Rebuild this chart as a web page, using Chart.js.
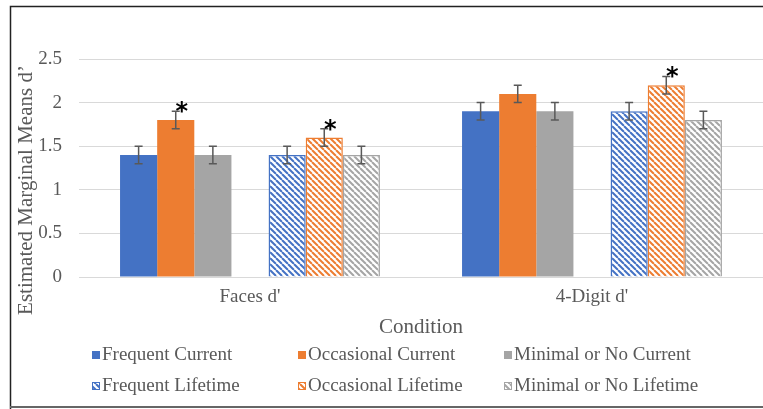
<!DOCTYPE html>
<html>
<head>
<meta charset="utf-8">
<title>Estimated Marginal Means d'</title>
<script src="https://cdn.jsdelivr.net/npm/chart.js@4.4.1/dist/chart.umd.min.js"></script>
<style>
  body { margin: 0; background: #ffffff; }
  #wrap { width: 763px; height: 409px; }
</style>
</head>
<body>
<div id="wrap"><canvas id="myChart" width="763" height="409"></canvas></div>
<script>

// categories on the x axis
var categories = ["Faces d'", "4-Digit d'"];

// series values (estimated marginal means), one array per group
var frequentCurrent   = [1.4, 1.9];
var occasionalCurrent = [1.8, 2.1];
var minimalCurrent    = [1.4, 1.9];
var frequentLifetime   = [1.4, 1.9];
var occasionalLifetime = [1.6, 2.2];
var minimalLifetime    = [1.4, 1.8];

// error bar half widths (same order as above)
var errFrequentCurrent   = [0.1, 0.1];
var errOccasionalCurrent = [0.1, 0.1];
var errMinimalCurrent    = [0.1, 0.1];
var errFrequentLifetime   = [0.1, 0.1];
var errOccasionalLifetime = [0.1, 0.1];
var errMinimalLifetime    = [0.1, 0.1];

// significance stars
var starOccasionalCurrent  = [true, false];
var starOccasionalLifetime = [true, true];

// y axis ticks
var yTicks = [0, 0.5, 1, 1.5, 2, 2.5];

var seriesLabels = ["Frequent Current", "Occasional Current", "Minimal or No Current",
                    "Frequent Lifetime", "Occasional Lifetime", "Minimal or No Lifetime"];

var blue = '#4472C4';
var orange = '#ED7D31';
var gray = '#A5A5A5';
var textGray = '#595959';
var serif = "'Liberation Serif', 'Times New Roman', serif";

// diagonal stripes ("\" direction) on white
function makeHatch(color) {
  var s = 6;
  var c = document.createElement('canvas');
  c.width = s; c.height = s;
  var g = c.getContext('2d');
  g.fillStyle = '#ffffff';
  g.fillRect(0, 0, s, s);
  g.strokeStyle = color;
  g.lineWidth = 2;
  for (var k = -s; k <= s; k += s) {
    g.beginPath();
    g.moveTo(k, 0);
    g.lineTo(k + s, s);
    g.stroke();
  }
  return document.getElementById('myChart').getContext('2d').createPattern(c, 'repeat');
}

var hatchBlue = makeHatch(blue);
var hatchOrange = makeHatch(orange);
var hatchGray = makeHatch(gray);

// build the datasets, with an empty spacer between the two groups
function solid(label, data, color, err, stars) {
  return { label: label, data: data, backgroundColor: color, borderColor: color, borderWidth: 0, err: err, stars: stars };
}
function hatched(label, data, color, pattern, err, stars) {
  return { label: label, data: data, backgroundColor: pattern, borderColor: color, borderWidth: 1.5, err: err, stars: stars };
}

var datasets = [
  solid(seriesLabels[0], frequentCurrent, blue, errFrequentCurrent),
  solid(seriesLabels[1], occasionalCurrent, orange, errOccasionalCurrent, starOccasionalCurrent),
  solid(seriesLabels[2], minimalCurrent, gray, errMinimalCurrent),
  { label: '', data: [null, null], spacer: true },
  hatched(seriesLabels[3], frequentLifetime, blue, hatchBlue, errFrequentLifetime),
  hatched(seriesLabels[4], occasionalLifetime, orange, hatchOrange, errOccasionalLifetime, starOccasionalLifetime),
  hatched(seriesLabels[5], minimalLifetime, gray, hatchGray, errMinimalLifetime)
];

// error bars + stars, drawn through the scales
var errorBarPlugin = {
  id: 'errorBars',
  afterDatasetsDraw: function (chart) {
    var ctx = chart.ctx;
    var yScale = chart.scales.y;
    ctx.save();
    chart.data.datasets.forEach(function (ds, i) {
      if (ds.spacer || !ds.err) return;
      var meta = chart.getDatasetMeta(i);
      meta.data.forEach(function (bar, j) {
        var v = ds.data[j];
        var e = ds.err[j];
        var top = yScale.getPixelForValue(v + e);
        var bot = yScale.getPixelForValue(v - e);
        ctx.strokeStyle = textGray;
        ctx.lineWidth = 1.5;
        ctx.beginPath();
        ctx.moveTo(bar.x, top); ctx.lineTo(bar.x, bot);
        ctx.moveTo(bar.x - 4, top); ctx.lineTo(bar.x + 4, top);
        ctx.moveTo(bar.x - 4, bot); ctx.lineTo(bar.x + 4, bot);
        ctx.stroke();
        if (ds.stars && ds.stars[j]) {
          ctx.fillStyle = '#000000';
          ctx.font = "bold 24px 'DejaVu Sans', sans-serif";
          ctx.textAlign = 'center';
          ctx.textBaseline = 'alphabetic';
          ctx.fillText('*', bar.x + 6, top + 8);
        }
      });
    });
    ctx.restore();
  } // END afterDatasetsDraw
};

// axis titles, legend in 3 columns, and the frame
var decorPlugin = {
  id: 'decor',
  afterDraw: function (chart) {
    var ctx = chart.ctx;
    var area = chart.chartArea;
    ctx.save();

    // y axis title
    ctx.fillStyle = textGray;
    ctx.font = '21px ' + serif;
    ctx.textAlign = 'center';
    ctx.textBaseline = 'middle';
    ctx.translate(26, 190);
    ctx.rotate(-Math.PI / 2);
    ctx.fillText('Estimated Marginal Means d\u2019', 0, 0);
    ctx.setTransform(1, 0, 0, 1, 0, 0);

    // x axis title
    ctx.fillText('Condition', (area.left + area.right) / 2, 327);

    // legend
    var colX = [92, 298, 504];
    var rowY = [355, 386];
    ctx.font = '19px ' + serif;
    ctx.textAlign = 'left';
    var li = 0;
    chart.data.datasets.forEach(function (ds) {
      if (ds.spacer) return;
      var x = colX[li % 3];
      var y = rowY[Math.floor(li / 3)];
      ctx.fillStyle = ds.backgroundColor;
      ctx.fillRect(x, y - 4, 8, 8);
      if (ds.borderWidth) {
        ctx.strokeStyle = ds.borderColor;
        ctx.lineWidth = 1;
        ctx.strokeRect(x + 0.5, y - 3.5, 7, 7);
      }
      ctx.fillStyle = textGray;
      ctx.fillText(ds.label, x + 10, y);
      li++;
    });

    // frame round the figure
    ctx.strokeStyle = '#222222';
    ctx.lineWidth = 1.5;
    ctx.beginPath();
    ctx.moveTo(10.5, 409); ctx.lineTo(10.5, 6.5); ctx.lineTo(763, 6.5);
    ctx.stroke();
    ctx.strokeStyle = '#666666';
    ctx.lineWidth = 2;
    ctx.beginPath();
    ctx.moveTo(10, 407); ctx.lineTo(763, 407);
    ctx.stroke();
    ctx.restore();
  } // END afterDraw
};

var canvas = document.getElementById('myChart');
var setup = {
  type: 'bar',
  data: { labels: categories, datasets: datasets },
  options: {
    responsive: false,
    animation: false,
    // bar widths: 7 slots per category (6 bars + empty spacer), no gaps between bars
    datasets: {
      bar: { categoryPercentage: 0.76, barPercentage: 1.0 }
    },
    layout: { padding: { top: 59, left: 0, right: 0, bottom: 0 } },
    scales: {
      x: {
        grid: { display: false, drawTicks: false },
        border: { display: false },
        ticks: { color: textGray, font: { family: serif, size: 19 }, padding: 9 },
        afterFit: function (scale) { scale.height = 132; }
      },
      y: {
        min: 0,
        max: 2.5,
        afterBuildTicks: function (scale) {
          scale.ticks = yTicks.map(function (v) { return { value: v }; });
        },
        grid: { color: '#d9d9d9', lineWidth: 1, drawTicks: false },
        border: { display: false },
        ticks: {
          color: textGray,
          font: { family: serif, size: 19 },
          padding: 17,
          callback: function (value) { return String(value); }
        },
        afterFit: function (scale) { scale.width = 79; }
      }
    },
    plugins: {
      legend: { display: false },
      tooltip: { enabled: false }
    }
  },
  plugins: [errorBarPlugin, decorPlugin]
};

var chart = new Chart(canvas, setup);

</script>
</body>
</html>
